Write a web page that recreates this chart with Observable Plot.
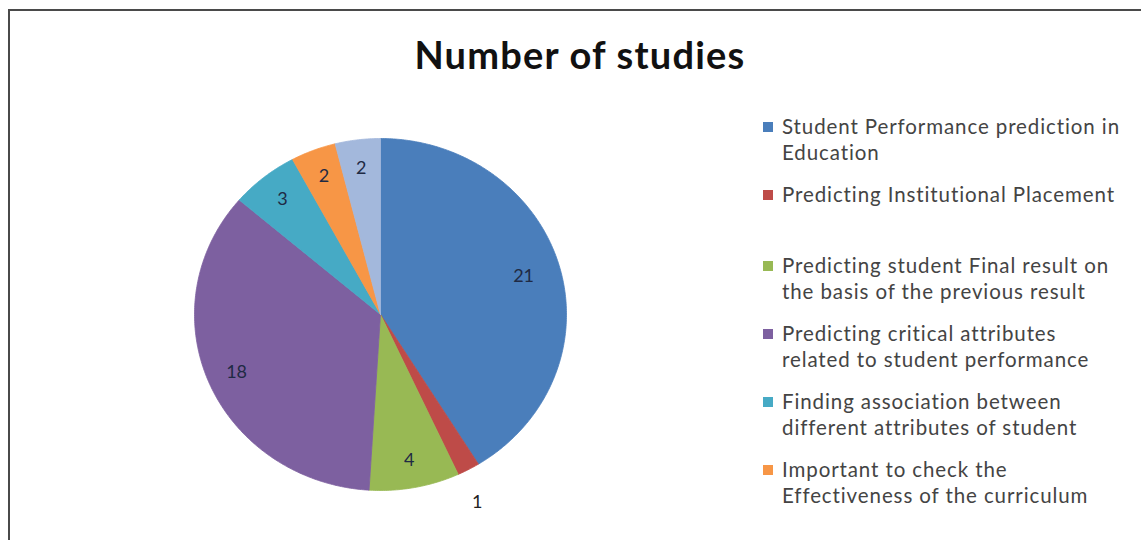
<!DOCTYPE html>
<html>
<head>
<meta charset="utf-8">
<script src="https://cdn.jsdelivr.net/npm/d3@7"></script>
<script src="https://cdn.jsdelivr.net/npm/@observablehq/plot@0.6"></script>
<style>
  html, body { margin: 0; padding: 0; background: #fff; }
  #wrap { position: relative; width: 1141px; height: 540px; overflow: hidden; background: #fff; }
  #frame { position: absolute; left: 8px; top: 9px; width: 1200px; height: 600px;
           border-top: 2px solid #4a4a4a; border-left: 2px solid #4a4a4a; box-sizing: border-box; }
  #title { position: absolute; left: 0; width: 1160px; top: 31px; text-align: center;
           font-family: Lato, "Open Sans", sans-serif; font-weight: 700; font-size: 38px;
           letter-spacing: 1.2px; color: #111; }
  #chart { position: absolute; left: 0; top: 0; }
  #legend { position: absolute; left: 763px; top: 113px; font-family: Lato, "Open Sans", sans-serif;
            font-size: 20.5px; letter-spacing: 0.9px; color: #444; line-height: 26px; white-space: nowrap; }
  .item { position: relative; padding-left: 19px; }
  .sw { position: absolute; left: 0; top: 9px; width: 10px; height: 10px; }
</style>
</head>
<body>
<div id="wrap">
  <div id="frame"></div>
  <div id="chart"></div>
  <div id="title"></div>
  <div id="legend"></div>
</div>
<script>
const title = "Number of studies";
const categories = [
  "Student Performance prediction in Education",
  "Predicting Institutional Placement",
  "Predicting student Final result on the basis of the previous result",
  "Predicting critical attributes related to student performance",
  "Finding association between different attributes of student",
  "Important to check the Effectiveness of the curriculum",
  "Other"
];
const legendLines = [
  ["Student Performance prediction in", "Education"],
  ["Predicting Institutional Placement"],
  ["Predicting student Final result on", "the basis of the previous result"],
  ["Predicting critical attributes", "related to student performance"],
  ["Finding association between", "different attributes of student"],
  ["Important to check the", "Effectiveness of the curriculum"]
];
const values = [21, 1, 4, 18, 3, 2, 2];
const colors = ["#4a7ebb", "#be4b48", "#98b954", "#7d60a0", "#46aac5", "#f79646", "#a3b8dc"];

// build slice outlines from values (angles clockwise from 12 o'clock)
const total = d3.sum(values);
let acc = 0;
const slicePts = [];
const labels = [];
values.forEach((v, i) => {
  const a0 = acc / total * 2 * Math.PI;
  const a1 = (acc + v) / total * 2 * Math.PI;
  acc += v;
  slicePts.push({cat: categories[i], x: 0, y: 0});
  const n = Math.max(2, Math.ceil((a1 - a0) / 0.01));
  for (let k = 0; k <= n; k++) {
    const a = a0 + (a1 - a0) * k / n;
    slicePts.push({cat: categories[i], x: Math.sin(a), y: Math.cos(a)});
  }
  slicePts.push({cat: categories[i], x: 0, y: 0});
  const am = (a0 + a1) / 2;
  const r = v <= 1 ? 1.1 : (v > 20 ? 0.8 : 0.84);
  labels.push({cat: categories[i], value: v, x: r * Math.sin(am), y: r * Math.cos(am) * (v <= 1 ? 1.1 : 1)});
});

const plot = Plot.plot({
  width: 1141,
  height: 540,
  margin: 0,
  x: {domain: [-1, 1], range: [194, 566], axis: null},
  y: {domain: [-1, 1], range: [490, 138], axis: null},
  color: {domain: categories, range: colors},
  style: {background: "transparent", fontFamily: "Lato, 'Open Sans', sans-serif"},
  marks: [
    Plot.line(slicePts, {x: "x", y: "y", z: "cat", fill: "cat", stroke: "cat", strokeWidth: 0.8, curve: "linear"}),
    Plot.text(labels, {x: "x", y: "y", text: d => String(d.value), fontSize: 18,
      fill: d => d.value <= 1 ? "#222" : "#1f2a44"})
  ]
});
document.getElementById("chart").appendChild(plot);
document.getElementById("title").textContent = title;

const leg = document.getElementById("legend");
legendLines.forEach((lines, i) => {
  const div = document.createElement("div");
  div.className = "item";
  div.style.marginBottom = i === 1 ? "45px" : "16px";
  const sw = document.createElement("span");
  sw.className = "sw";
  sw.style.background = colors[i];
  div.appendChild(sw);
  lines.forEach((t, j) => {
    if (j) div.appendChild(document.createElement("br"));
    div.appendChild(document.createTextNode(t));
  });
  leg.appendChild(div);
});
</script>
</body>
</html>
